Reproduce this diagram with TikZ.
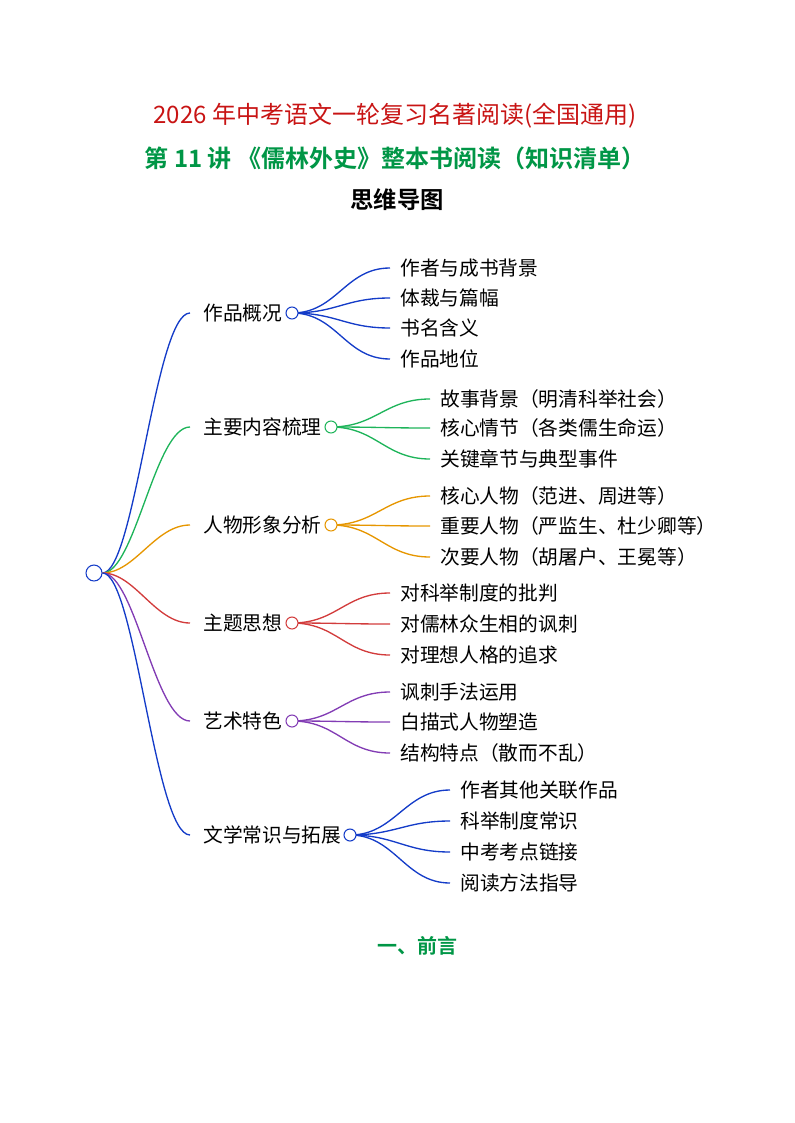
\documentclass[tikz,border=0pt]{standalone}
\usepackage{fontspec}
\setmainfont{Noto Sans CJK SC}[BoldFont={Noto Sans CJK SC Bold}]
\usetikzlibrary{positioning}
\definecolor{cblue}{RGB}{20,60,200}
\definecolor{cgreen}{RGB}{30,180,90}
\definecolor{corange}{RGB}{230,150,0}
\definecolor{cred}{RGB}{210,60,60}
\definecolor{cpurple}{RGB}{130,60,180}
\definecolor{ttred}{RGB}{200,20,20}
\definecolor{ttgreen}{RGB}{0,150,70}
\tikzset{
  topic/.style = {anchor=west, inner sep=0pt, font=\fontsize{14.8}{16}\selectfont},
  leaf/.style  = {anchor=west, inner sep=0pt, font=\fontsize{14.8}{16}\selectfont},
  knot/.style  = {circle, draw, thick, fill=white, minimum size=9pt, inner sep=0pt},
  branch/.style= {line width=1pt}
}
\begin{document}
\begin{tikzpicture}[x=0.75pt, y=-0.75pt]
\useasboundingbox (0,0) rectangle (794,1123);

% titles
\node (t1) at (395,116) {\fontsize{18}{20}\selectfont\color{ttred}2026 年中考语文一轮复习名著阅读(全国通用)};
\node (t2) at (395,158) {\fontsize{18}{20}\selectfont\bfseries\color{ttgreen}第 11 讲 《儒林外史》整本书阅读（知识清单）};
\node (t3) at (397,200) {\fontsize{17.5}{20}\selectfont\bfseries 思维导图};
\node (t4) at (417,946) {\fontsize{15}{17}\selectfont\bfseries\color{ttgreen}一、前言};

% root
\node (root) [knot, draw=cblue, minimum size=12pt] at (94,573) {};

% branches: y / circle x / leaf x / colour / text / leaves
\foreach \y/\cx/\lx/\col/\txt/\leaves in {
  313/292/400/cblue/作品概况/{268/作者与成书背景,298/体裁与篇幅,328/书名含义,359/作品地位},
  427/331/440/cgreen/主要内容梳理/{399/故事背景（明清科举社会）,428/核心情节（各类儒生命运）,459/关键章节与典型事件},
  525/331/440/corange/人物形象分析/{496/核心人物（范进、周进等）,526/重要人物（严监生、杜少卿等）,557/次要人物（胡屠户、王冕等）},
  623/292/400/cred/主题思想/{593/对科举制度的批判,624/对儒林众生相的讽刺,655/对理想人格的追求},
  721/292/400/cpurple/艺术特色/{692/讽刺手法运用,722/白描式人物塑造,753/结构特点（散而不乱）},
  835/350/460/cblue/文学常识与拓展/{790/作者其他关联作品,821/科举制度常识,852/中考考点链接,883/阅读方法指导}}
{
  \coordinate (bend) at (190,\y);
  \node (topic) [topic] at (203,\y) {\txt};
  \draw[branch, \col] (root.east) .. controls (135,573) and (155,\y) .. (bend);
  \foreach \ly/\ltxt in \leaves {
    \coordinate (tip) at (\lx-10,\ly);
    \node (leaf) [leaf] at (\lx,\ly) {\ltxt};
    \draw[branch, \col] (\cx,\y) .. controls (\cx+45,\y) and (\lx-55,\ly) .. (tip);
  }
  \node (hub) [knot, draw=\col] at (\cx,\y) {};
}
\end{tikzpicture}
\end{document}
